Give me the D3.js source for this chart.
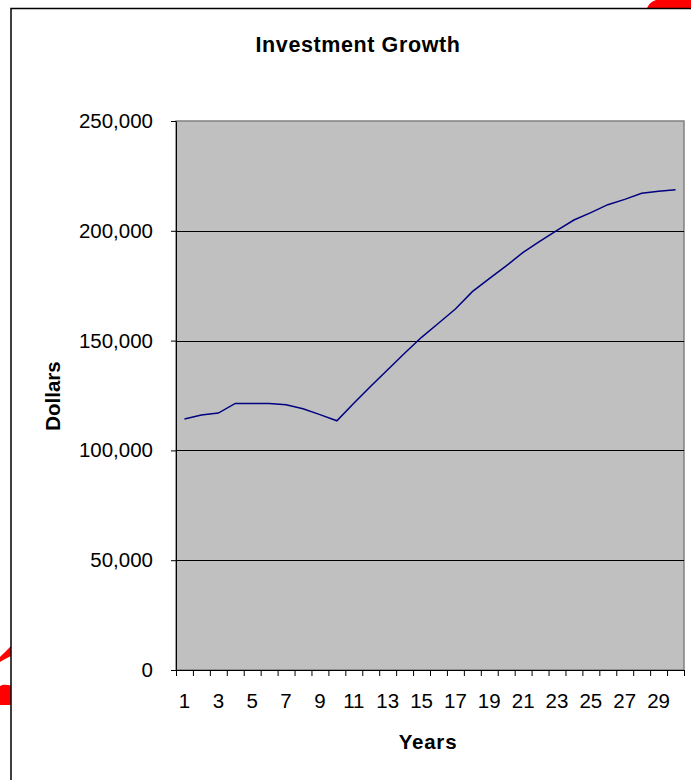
<!DOCTYPE html>
<html>
<head>
<meta charset="utf-8">
<script src="https://cdn.jsdelivr.net/npm/d3@7"></script>
<style>
  html, body { margin: 0; padding: 0; background: #fff; }
  svg { display: block; }
  text { font-family: "Liberation Sans", Arial, sans-serif; fill: #000; }
</style>
</head>
<body>
<svg id="chart" width="691" height="780"></svg>
<script>
// ---- data ----
const years = d3.range(1, 31);
const values = [
  114300, 116100, 117000, 121400, 121400, 121400, 120800, 119000, 116300, 113500,
  121500, 129200, 136700, 144200, 151500, 157900, 164400, 172300, 178200, 184000,
  190200, 195300, 200200, 204900, 208300, 211900, 214300, 217100, 218000, 218700
];
const yTicks = [0, 50000, 100000, 150000, 200000, 250000];
const xTickLabels = [1, 3, 5, 7, 9, 11, 13, 15, 17, 19, 21, 23, 25, 27, 29];
const titleText = "Investment Growth";
const xTitle = "Years";
const yTitle = "Dollars";

// ---- layout ----
const svg = d3.select("#chart");
const L = 176, R = 684, T = 121, B = 670;

// decorative frame + red shapes
svg.append("path")
  .attr("d", "M647,8.5 C648,5 651,1.5 656,0 L691,0 L691,8.5 Z")
  .attr("fill", "#ff0000");
svg.append("path")
  .attr("d", "M0,657 C3,654 7,650 11,646 L11,656 C7,658 3,660 0,662 Z")
  .attr("fill", "#ff0000");
svg.append("path")
  .attr("d", "M0,686 C3,684 7,684.5 11,685.5 L11,705 L0,705 Z")
  .attr("fill", "#ff0000");
svg.append("path")
  .attr("d", "M11,780 L11,8.5 L691,8.5")
  .attr("fill", "none").attr("stroke", "#000").attr("stroke-width", 1.5);

const x = d3.scaleBand().domain(years).range([L, R]).padding(0);
const xLin = d3.scaleLinear().domain([0, years.length]).range([L, R]);
const y = d3.scaleLinear().domain([0, 250000]).range([B, T]);

// plot area
svg.append("rect")
  .attr("x", L).attr("y", T).attr("width", R - L).attr("height", B - T)
  .attr("fill", "#c0c0c0").attr("stroke", "#808080").attr("stroke-width", 1.5);

// gridlines
svg.append("g").selectAll("line")
  .data(yTicks.filter(d => d > 0 && d < 250000))
  .join("line")
  .attr("x1", L).attr("x2", R)
  .attr("y1", d => Math.round(y(d)) + 0.5).attr("y2", d => Math.round(y(d)) + 0.5)
  .attr("stroke", "#000").attr("stroke-width", 1);

// line
const line = d3.line()
  .x((d, i) => x(years[i]) + x.bandwidth() / 2)
  .y(d => y(d));
svg.append("path")
  .datum(values)
  .attr("d", line)
  .attr("fill", "none")
  .attr("stroke", "#000080")
  .attr("stroke-width", 1.5);

// y axis
const yAxis = svg.append("g")
  .attr("transform", `translate(${L},0)`)
  .call(d3.axisLeft(y).tickValues(yTicks).tickFormat(d3.format(",")).tickSize(5).tickPadding(18).tickSizeOuter(0));
yAxis.select(".domain").attr("stroke", "#000");
yAxis.selectAll("text").style("font-size", "20.5px").attr("fill", "#000");

// x axis tick marks at category boundaries
const xTicksAxis = svg.append("g")
  .attr("transform", `translate(0,${B})`)
  .call(d3.axisBottom(xLin).tickValues(d3.range(0, years.length + 1)).tickFormat("").tickSize(6).tickSizeOuter(0));
xTicksAxis.select(".domain").remove();
svg.append("line")
  .attr("x1", L - 5).attr("x2", R).attr("y1", B + 0.5).attr("y2", B + 0.5)
  .attr("stroke", "#000");

// x axis labels
const xLab = svg.append("g")
  .attr("transform", `translate(0,${B})`)
  .call(d3.axisBottom(x).tickValues(xTickLabels).tickSize(0).tickPadding(23.5));
xLab.select(".domain").remove();
xLab.selectAll("text").style("font-size", "20.5px").attr("fill", "#000");

// titles
svg.append("text")
  .attr("x", 358).attr("y", 52)
  .attr("text-anchor", "middle")
  .style("font-size", "21.5px").style("font-weight", "bold").style("letter-spacing", "0.6px")
  .text(titleText);
svg.append("text")
  .attr("x", 428).attr("y", 749)
  .attr("text-anchor", "middle")
  .style("font-size", "20.5px").style("font-weight", "bold").style("letter-spacing", "0.8px")
  .text(xTitle);
svg.append("text")
  .attr("transform", "translate(60,396) rotate(-90)")
  .attr("text-anchor", "middle")
  .style("font-size", "20.5px").style("font-weight", "bold")
  .text(yTitle);
</script>
</body>
</html>
